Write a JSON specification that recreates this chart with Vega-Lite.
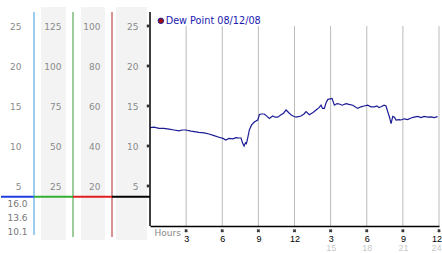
{
  "$schema": "https://vega.github.io/schema/vega-lite/v6.json",
  "padding": {"left": 0, "top": 7, "right": 0, "bottom": 0},
  "background": "white",
  "spacing": 0,
  "bounds": "flush",
  "config": {"view": {"stroke": null}, "font": "DejaVu Sans"},
  "datasets": {
    "dew": [
      {"hour": 0.0, "dewpoint": 12.3}, {"hour": 0.33, "dewpoint": 12.35}, {"hour": 0.75, "dewpoint": 12.2}, {"hour": 1.16, "dewpoint": 12.2},
      {"hour": 1.58, "dewpoint": 12.1}, {"hour": 2.0, "dewpoint": 12.0}, {"hour": 2.41, "dewpoint": 11.9}, {"hour": 2.66, "dewpoint": 12.0},
      {"hour": 2.97, "dewpoint": 12.0}, {"hour": 3.4, "dewpoint": 11.85}, {"hour": 4.07, "dewpoint": 11.7}, {"hour": 4.49, "dewpoint": 11.65},
      {"hour": 4.9, "dewpoint": 11.5}, {"hour": 5.32, "dewpoint": 11.3}, {"hour": 5.73, "dewpoint": 11.1}, {"hour": 6.06, "dewpoint": 10.95},
      {"hour": 6.29, "dewpoint": 10.75}, {"hour": 6.56, "dewpoint": 10.95}, {"hour": 6.89, "dewpoint": 10.9}, {"hour": 7.14, "dewpoint": 11.05},
      {"hour": 7.39, "dewpoint": 11.0}, {"hour": 7.56, "dewpoint": 11.0}, {"hour": 7.68, "dewpoint": 10.4}, {"hour": 7.81, "dewpoint": 10.0},
      {"hour": 7.93, "dewpoint": 10.4}, {"hour": 8.0, "dewpoint": 10.3}, {"hour": 8.08, "dewpoint": 10.75}, {"hour": 8.25, "dewpoint": 12.0},
      {"hour": 8.43, "dewpoint": 12.6}, {"hour": 8.66, "dewpoint": 13.0}, {"hour": 8.95, "dewpoint": 13.25}, {"hour": 9.08, "dewpoint": 13.9},
      {"hour": 9.22, "dewpoint": 14.0}, {"hour": 9.49, "dewpoint": 14.0}, {"hour": 9.72, "dewpoint": 13.7}, {"hour": 9.91, "dewpoint": 13.45},
      {"hour": 10.19, "dewpoint": 13.75}, {"hour": 10.38, "dewpoint": 13.6}, {"hour": 10.61, "dewpoint": 13.6}, {"hour": 10.88, "dewpoint": 13.9},
      {"hour": 11.09, "dewpoint": 14.1}, {"hour": 11.3, "dewpoint": 14.5}, {"hour": 11.57, "dewpoint": 14.1}, {"hour": 11.79, "dewpoint": 13.8},
      {"hour": 12.13, "dewpoint": 13.6}, {"hour": 12.54, "dewpoint": 13.75}, {"hour": 12.79, "dewpoint": 14.0}, {"hour": 12.96, "dewpoint": 14.3},
      {"hour": 13.23, "dewpoint": 13.9}, {"hour": 13.54, "dewpoint": 14.2}, {"hour": 13.79, "dewpoint": 14.5}, {"hour": 14.04, "dewpoint": 14.8},
      {"hour": 14.2, "dewpoint": 15.1}, {"hour": 14.33, "dewpoint": 14.7}, {"hour": 14.48, "dewpoint": 14.7}, {"hour": 14.62, "dewpoint": 15.4},
      {"hour": 14.76, "dewpoint": 15.8}, {"hour": 14.95, "dewpoint": 15.9}, {"hour": 15.12, "dewpoint": 15.95}, {"hour": 15.31, "dewpoint": 15.1},
      {"hour": 15.53, "dewpoint": 15.3}, {"hour": 15.72, "dewpoint": 15.25}, {"hour": 15.95, "dewpoint": 15.1}, {"hour": 16.28, "dewpoint": 15.3},
      {"hour": 16.53, "dewpoint": 15.2}, {"hour": 16.84, "dewpoint": 15.1}, {"hour": 17.03, "dewpoint": 14.9}, {"hour": 17.25, "dewpoint": 14.7},
      {"hour": 17.52, "dewpoint": 14.9}, {"hour": 17.77, "dewpoint": 15.0}, {"hour": 18.08, "dewpoint": 15.1}, {"hour": 18.36, "dewpoint": 14.9},
      {"hour": 18.63, "dewpoint": 14.9}, {"hour": 18.85, "dewpoint": 15.0}, {"hour": 19.02, "dewpoint": 14.8}, {"hour": 19.19, "dewpoint": 14.9},
      {"hour": 19.44, "dewpoint": 15.1}, {"hour": 19.6, "dewpoint": 15.0}, {"hour": 19.74, "dewpoint": 14.3}, {"hour": 19.89, "dewpoint": 13.6},
      {"hour": 20.02, "dewpoint": 12.8}, {"hour": 20.16, "dewpoint": 13.7}, {"hour": 20.3, "dewpoint": 13.6}, {"hour": 20.43, "dewpoint": 13.25},
      {"hour": 20.68, "dewpoint": 13.3}, {"hour": 20.85, "dewpoint": 13.25}, {"hour": 21.1, "dewpoint": 13.4}, {"hour": 21.4, "dewpoint": 13.3},
      {"hour": 21.68, "dewpoint": 13.5}, {"hour": 21.93, "dewpoint": 13.6}, {"hour": 22.24, "dewpoint": 13.7}, {"hour": 22.51, "dewpoint": 13.55},
      {"hour": 22.76, "dewpoint": 13.7}, {"hour": 23.07, "dewpoint": 13.6}, {"hour": 23.34, "dewpoint": 13.65}, {"hour": 23.59, "dewpoint": 13.55},
      {"hour": 23.75, "dewpoint": 13.6}, {"hour": 23.88, "dewpoint": 13.7}
    ],
    "hours": [{"hour": 3}, {"hour": 6}, {"hour": 9}, {"hour": 12}, {"hour": 15}, {"hour": 18}, {"hour": 21}, {"hour": 24}],
    "levels": [{"level": 5}, {"level": 10}, {"level": 15}, {"level": 20}, {"level": 25}],
    "stats": [{"high": "16.0", "current": "13.6", "low": "10.1"}],
    "frame": [{"panel": "scale"}]
  },
  "hconcat": [
    {
      "width": 33, "height": 233,
      "data": {"name": "frame"},
      "resolve": {"axis": {"y": "independent"}},
      "layer": [
        {"mark": {"type": "rule", "color": "#1e3ee0", "strokeWidth": 2},
         "encoding": {
           "x": {"datum": 0, "type": "quantitative", "scale": {"domain": [0, 1], "nice": false, "zero": false}, "axis": null},
           "x2": {"datum": 1},
           "y": {"datum": 3.66, "type": "quantitative", "scale": {"domain": [-1.75, 27.375], "nice": false, "zero": false},
           "axis": {"orient": "left", "offset": -20, "values": [5, 10, 15, 20, 25], "labelPadding": 0, "ticks": false, "tickSize": 0, "domain": false, "grid": false, "title": null, "labelColor": "#8a8a8a", "labelFontSize": 9, "labelFont": "DejaVu Sans", "labelBaseline": "middle", "labelAlign": "right", "zindex": 1}}}},
        {"mark": {"type": "rule", "color": "#3a9ad9", "strokeWidth": 1},
         "encoding": {"x": {"datum": 1, "type": "quantitative", "axis": null},
           "y": {"datum": 26.75, "type": "quantitative", "axis": null}, "y2": {"datum": -1.125}}},
        {"data": {"name": "stats"}, "mark": {"type": "text", "font": "DejaVu Sans", "fontSize": 9, "color": "#777777"},
         "encoding": {"text": {"field": "high"}, "y": {"datum": 2.71, "type": "quantitative", "axis": null}}},
        {"data": {"name": "stats"}, "mark": {"type": "text", "font": "DejaVu Sans", "fontSize": 9, "color": "#777777"},
         "encoding": {"text": {"field": "current"}, "y": {"datum": 0.96, "type": "quantitative", "axis": null}}},
        {"data": {"name": "stats"}, "mark": {"type": "text", "font": "DejaVu Sans", "fontSize": 9, "color": "#777777"},
         "encoding": {"text": {"field": "low"}, "y": {"datum": -0.71, "type": "quantitative", "axis": null}}}
      ]
    },
    {
      "width": 39, "height": 233,
      "data": {"name": "frame"},
      "resolve": {"axis": {"y": "independent"}},
      "layer": [
        {"mark": {"type": "rect", "color": "#f3f3f3"},
         "encoding": {"x": {"datum": 0.1795, "type": "quantitative", "scale": {"domain": [0, 1], "nice": false, "zero": false}, "axis": null}, "x2": {"datum": 0.8205},
           "y": {"datum": 27.375, "type": "quantitative", "scale": {"domain": [-1.75, 27.375], "nice": false, "zero": false}, "axis": null}, "y2": {"datum": -1.75}}},
        {"mark": {"type": "rule", "color": "#33b033", "strokeWidth": 2},
         "encoding": {
           "x": {"datum": 0, "type": "quantitative", "axis": null}, "x2": {"datum": 1},
           "y": {"datum": 3.66, "type": "quantitative",
           "axis": {"orient": "left", "offset": -27, "values": [5, 10, 15, 20, 25], "labelExpr": "'' + datum.value * 5", "labelPadding": 0, "ticks": false, "tickSize": 0, "domain": false, "grid": false, "title": null, "labelColor": "#8a8a8a", "labelFontSize": 9, "labelFont": "DejaVu Sans", "labelBaseline": "middle", "labelAlign": "right", "zindex": 1}}}},
        {"mark": {"type": "rule", "color": "#3a9a3a", "strokeWidth": 1},
         "encoding": {"x": {"datum": 1, "type": "quantitative", "axis": null},
           "y": {"datum": 26.75, "type": "quantitative", "axis": null}, "y2": {"datum": -1.375}}}
      ]
    },
    {
      "width": 39, "height": 233,
      "data": {"name": "frame"},
      "resolve": {"axis": {"y": "independent"}},
      "layer": [
        {"mark": {"type": "rect", "color": "#f3f3f3"},
         "encoding": {"x": {"datum": 0.205, "type": "quantitative", "scale": {"domain": [0, 1], "nice": false, "zero": false}, "axis": null}, "x2": {"datum": 0.82},
           "y": {"datum": 27.375, "type": "quantitative", "scale": {"domain": [-1.75, 27.375], "nice": false, "zero": false}, "axis": null}, "y2": {"datum": -1.75}}},
        {"mark": {"type": "rule", "color": "#e02020", "strokeWidth": 2},
         "encoding": {
           "x": {"datum": 0, "type": "quantitative", "axis": null}, "x2": {"datum": 1},
           "y": {"datum": 3.66, "type": "quantitative",
           "axis": {"orient": "left", "offset": -27, "values": [5, 10, 15, 20, 25], "labelExpr": "'' + datum.value * 4", "labelPadding": 0, "ticks": false, "tickSize": 0, "domain": false, "grid": false, "title": null, "labelColor": "#8a8a8a", "labelFontSize": 9, "labelFont": "DejaVu Sans", "labelBaseline": "middle", "labelAlign": "right", "zindex": 1}}}},
        {"mark": {"type": "rule", "color": "#b02828", "strokeWidth": 1},
         "encoding": {"x": {"datum": 1, "type": "quantitative", "axis": null},
           "y": {"datum": 26.75, "type": "quantitative", "axis": null}, "y2": {"datum": -1.375}}}
      ]
    },
    {
      "width": 38, "height": 233,
      "data": {"name": "frame"},
      "resolve": {"axis": {"y": "independent"}},
      "layer": [
        {"mark": {"type": "rect", "color": "#f3f3f3"},
         "encoding": {"x": {"datum": 0.105, "type": "quantitative", "scale": {"domain": [0, 1], "nice": false, "zero": false}, "axis": null}, "x2": {"datum": 0.921},
           "y": {"datum": 27.375, "type": "quantitative", "scale": {"domain": [-1.75, 27.375], "nice": false, "zero": false}, "axis": null}, "y2": {"datum": -1.75}}},
        {"mark": {"type": "rule", "color": "#000000", "strokeWidth": 2},
         "encoding": {
           "x": {"datum": 0, "type": "quantitative", "axis": null}, "x2": {"datum": 1},
           "y": {"datum": 3.66, "type": "quantitative",
           "axis": {"orient": "left", "offset": -26, "values": [5, 10, 15, 20, 25], "labelPadding": 0, "ticks": false, "tickSize": 0, "domain": false, "grid": false, "title": null, "labelColor": "#8a8a8a", "labelFontSize": 9, "labelFont": "DejaVu Sans", "labelBaseline": "middle", "labelAlign": "right", "zindex": 1}}}}
      ]
    },
    {
      "width": 289, "height": 219,
      "resolve": {"axis": {"x": "independent"}},
      "layer": [
        {"data": {"name": "hours"}, "mark": {"type": "rule", "color": "#bbbbbb", "strokeWidth": 1},
         "encoding": {
           "x": {"field": "hour", "type": "quantitative", "scale": {"domain": [0, 24], "nice": false, "zero": false},
             "axis": {"orient": "bottom", "values": [3, 6, 9, 12, 15, 18, 21, 24], "labelExpr": "datum.value % 12 == 0 ? '12' : '' + (datum.value % 12)", "grid": false, "ticks": false, "tickSize": 0, "domain": true, "domainColor": "#000000", "domainWidth": 1.5, "labelFont": "Liberation Sans", "labelFontSize": 9, "labelColor": "#000000", "labelPadding": 12, "labelBaseline": "middle", "labelFlush": true, "labelFlushOffset": 2.5, "labelOverlap": false, "title": "Hours", "titleX": 4, "titleY": 6, "titleAlign": "left", "titleBaseline": "middle", "titleFont": "DejaVu Sans", "titleFontSize": 9, "titleFontWeight": "normal", "titleColor": "#888888", "zindex": 1}},
           "y": {"datum": 0, "type": "quantitative", "scale": {"domain": [0, 27.375], "nice": false, "zero": false},
             "axis": {"values": [5, 10, 15, 20, 25], "grid": true, "gridColor": "#bbbbbb", "gridWidth": 1, "labels": false, "ticks": false, "domain": false, "title": null}},
           "y2": {"datum": 25}}},
        {"data": {"name": "dew"}, "mark": {"type": "line", "strokeWidth": 1.2},
         "encoding": {
           "x": {"field": "hour", "type": "quantitative", "axis": null},
           "y": {"field": "dewpoint", "type": "quantitative", "axis": null},
           "color": {"datum": "Dew Point 08/12/08", "type": "nominal", "scale": {"range": ["#1c1c96"]},
             "legend": {"orient": "none", "legendX": 155, "legendY": 9, "title": null, "padding": 0, "symbolType": "circle", "symbolSize": 30, "symbolStrokeWidth": 1, "labelFont": "DejaVu Sans", "labelFontSize": 9.7, "labelColor": "#2020b0", "labelOffset": 0,
               "encode": {"symbols": {"update": {"fill": {"value": "#a01010"}, "stroke": {"value": "#330000"}, "opacity": {"value": 1}}}}}}}},
        {"data": {"name": "frame"}, "mark": {"type": "rule", "color": "#000000", "strokeWidth": 1.5},
         "encoding": {"x": {"datum": 0, "type": "quantitative", "axis": null}, "y": {"datum": 0, "type": "quantitative", "axis": null}, "y2": {"datum": 26.75}}},
        {"data": {"name": "levels"}, "mark": {"type": "point", "shape": "cross", "angle": 45, "size": 12, "filled": true, "color": "#333333", "opacity": 1},
         "encoding": {"x": {"datum": -0.15, "type": "quantitative", "axis": null}, "y": {"field": "level", "type": "quantitative", "axis": null}}},
        {"data": {"name": "hours"}, "mark": {"type": "point", "shape": "cross", "angle": 45, "size": 12, "filled": true, "color": "#333333", "opacity": 1},
         "encoding": {
           "x": {"field": "hour", "type": "quantitative",
             "axis": {"orient": "bottom", "values": [15, 18, 21, 24], "grid": false, "ticks": false, "tickSize": 0, "domain": false, "labelFont": "Liberation Sans", "labelFontSize": 9, "labelColor": "#c8c8c8", "labelPadding": 21, "labelBaseline": "middle", "labelFlush": true, "labelFlushOffset": 2, "title": null}},
           "y": {"datum": -0.6, "type": "quantitative", "axis": null}}}
      ]
    }
  ]
}
